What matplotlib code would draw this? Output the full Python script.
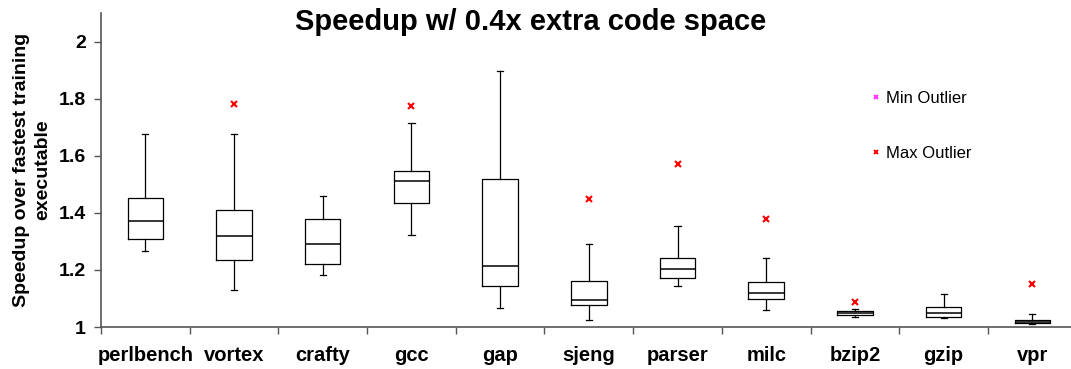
import matplotlib
matplotlib.use("Agg")
import matplotlib.pyplot as plt
from matplotlib.lines import Line2D

plt.rcParams['font.family'] = ['Liberation Sans', 'DejaVu Sans']

benchmarks = ['perlbench', 'vortex', 'crafty', 'gcc', 'gap', 'sjeng',
              'parser', 'milc', 'bzip2', 'gzip', 'vpr']
whislo = [1.267, 1.129, 1.182, 1.322, 1.068, 1.025, 1.144, 1.058, 1.035, 1.031, 1.009]
q1 = [1.309, 1.235, 1.221, 1.435, 1.144, 1.076, 1.170, 1.098, 1.041, 1.034, 1.013]
med = [1.373, 1.318, 1.291, 1.510, 1.212, 1.096, 1.202, 1.118, 1.048, 1.048, 1.019]
q3 = [1.453, 1.411, 1.379, 1.545, 1.520, 1.162, 1.243, 1.157, 1.056, 1.069, 1.023]
whishi = [1.676, 1.676, 1.460, 1.715, 1.896, 1.292, 1.353, 1.243, 1.062, 1.115, 1.045]
max_outliers = [[], [1.782], [], [1.775], [], [1.448], [1.572], [1.379], [1.087], [], [1.151]]

stats = []
for i, name in enumerate(benchmarks):
    stats.append(dict(label=name, whislo=whislo[i], q1=q1[i], med=med[i],
                      q3=q3[i], whishi=whishi[i], fliers=max_outliers[i]))

fig = plt.figure(figsize=(10.71, 3.69), dpi=100)
ax = fig.add_axes([0.0943, 0.1138, 0.911, 0.851])

pos = list(range(1, len(benchmarks) + 1))
ax.bxp(stats, positions=pos, widths=0.4, showfliers=True,
       boxprops=dict(color='black', linewidth=0.9),
       medianprops=dict(color='black', linewidth=1.1),
       whiskerprops=dict(color='black', linewidth=0.9),
       capprops=dict(color='black', linewidth=0.9),
       capwidths=0.07,
       flierprops=dict(marker='x', markeredgecolor='red', markersize=4,
                       markeredgewidth=1.5, linestyle='none'))

ax.set_xlim(0.5, len(benchmarks) + 0.5)
ax.set_ylim(1, 2.1)
ax.set_yticks([1, 1.2, 1.4, 1.6, 1.8, 2])
ax.set_yticklabels(['1', '1.2', '1.4', '1.6', '1.8', '2'], fontsize=14, fontweight='bold')
ax.set_xticks(pos)
ax.set_xticklabels(benchmarks, fontsize=14.5, fontweight='bold')
ax.set_xticks([p - 0.5 for p in pos], minor=True)
ax.tick_params(axis='x', which='major', length=0, pad=14)
ax.tick_params(axis='x', which='minor', length=5, width=1, color='#555555')
ax.tick_params(axis='y', length=5, width=1, color='#555555', pad=6)

for s in ['top', 'right']:
    ax.spines[s].set_visible(False)
for s in ['left', 'bottom']:
    ax.spines[s].set_color('#555555')
    ax.spines[s].set_linewidth(1.2)

ax.set_ylabel('Speedup over fastest training\nexecutable', fontsize=14,
              fontweight='bold', labelpad=5, linespacing=1.35)
fig.text(0.495, 0.94, 'Speedup w/ 0.4x extra code space', fontsize=21,
         fontweight='bold', ha='center', va='center')

handles = [Line2D([], [], marker='x', color='#ff33ff', markersize=3,
                  markeredgewidth=1.4, linestyle='none'),
           Line2D([], [], marker='x', color='red', markersize=3,
                  markeredgewidth=1.4, linestyle='none')]
ax.legend(handles, ['Min Outlier', 'Max Outlier'], loc='upper left',
          bbox_to_anchor=(0.775, 0.80), frameon=False, fontsize=12,
          handlelength=0.5, handletextpad=0.35, labelspacing=2.4)

fig.savefig('out.png', dpi=100)
